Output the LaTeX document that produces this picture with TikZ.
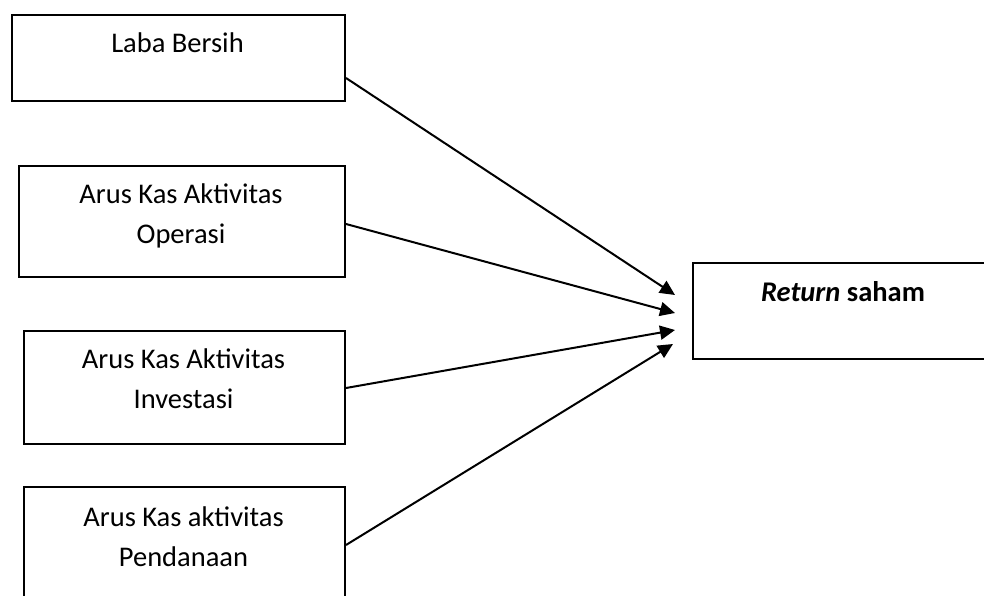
\documentclass[tikz,border=0pt]{standalone}
\usepackage{fontspec}
\setmainfont{Carlito}
\usetikzlibrary{arrows.meta,calc}
\begin{document}
\begin{tikzpicture}[x=1pt,y=-1pt,
  box/.style={draw, line width=2pt, inner sep=0pt, anchor=north west},
  lbl/.style={font=\fontsize{28.5}{40}\selectfont, align=center, anchor=base, inner sep=0pt},
  arr/.style={line width=2pt, -{Triangle[length=15pt,width=14pt]}}]
\useasboundingbox (0,0) rectangle (984,596);
\clip (0,0) rectangle (984,596);
\node[box, minimum width=333pt, minimum height=86pt] (b1) at (11,14) {};
\node[box, minimum width=326pt, minimum height=111pt] (b2) at (18,165) {};
\node[box, minimum width=321pt, minimum height=113pt] (b3) at (23,330) {};
\node[box, minimum width=321pt, minimum height=114pt] (b4) at (23,486) {};
\node[box, minimum width=302pt, minimum height=96pt] (r) at (692,262) {};
\node[lbl] (t1) at (177.5,53) {Laba Bersih};
\node[lbl] (t2) at (181,243) {Arus Kas Aktivitas\\Operasi};
\node[lbl] (t3) at (183.5,408) {Arus Kas Aktivitas\\Investasi};
\node[lbl] (t4) at (183.5,566) {Arus Kas aktivitas\\Pendanaan};
\node[lbl] (tr) at (843,301) {\textbf{\textit{Return} saham}};
\coordinate (s1) at ($(b1.north east)+(0,64)$);
\coordinate (s2) at ($(b2.north east)+(0,59)$);
\coordinate (s3) at ($(b3.north east)+(0,58)$);
\coordinate (s4) at ($(b4.north east)+(0,59)$);
\coordinate (e1) at ($(r.north west)+(-17,33)$);
\coordinate (e2) at ($(r.north west)+(-17,51)$);
\coordinate (e3) at ($(r.north west)+(-17,68)$);
\coordinate (e4) at ($(r.north west)+(-19,82)$);
\draw[arr] (s1) -- (e1);
\draw[arr] (s2) -- (e2);
\draw[arr] (s3) -- (e3);
\draw[arr] (s4) -- (e4);
\end{tikzpicture}
\end{document}
